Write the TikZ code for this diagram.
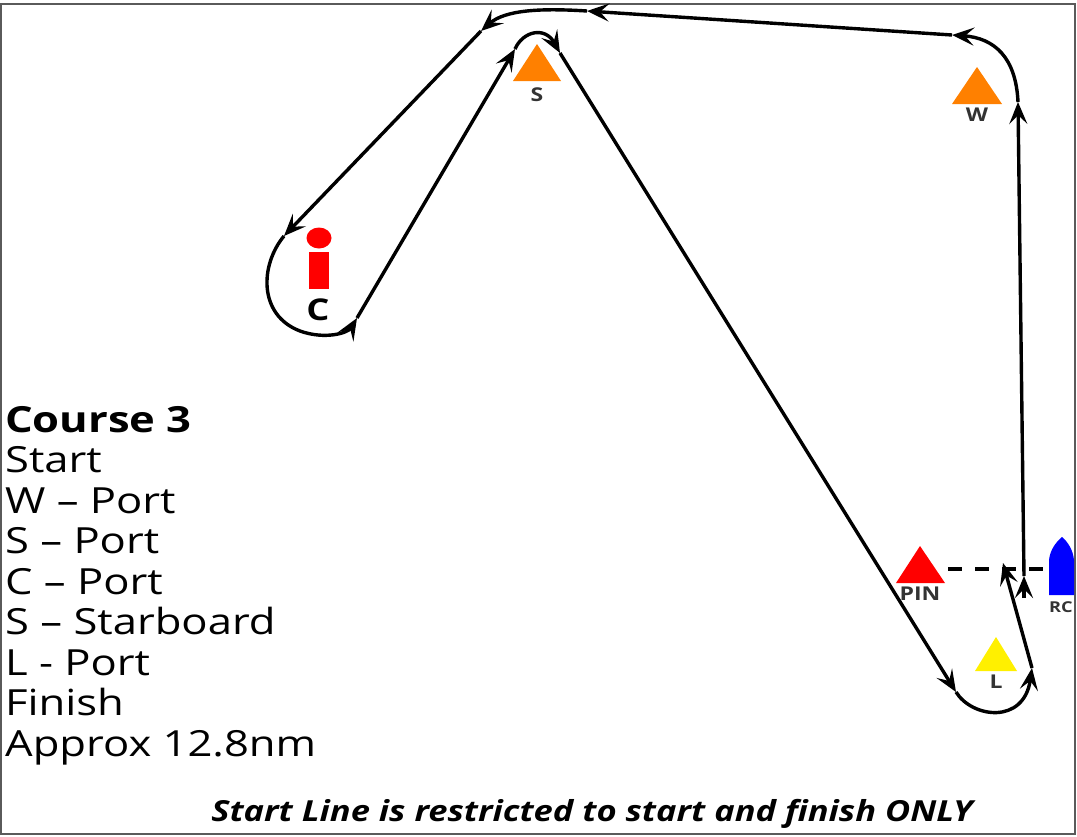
\documentclass[tikz,border=0pt]{standalone}
\usepackage{fontspec}
\setmainfont{Open Sans}[FakeStretch=1.21]
\newfontfamily\notefont{Open Sans}[FakeStretch=1.19]
\usetikzlibrary{arrows.meta}
\usetikzlibrary{positioning}
\definecolor{markorange}{RGB}{255,128,0}
\definecolor{markyellow}{RGB}{255,240,0}
\definecolor{framegray}{RGB}{90,90,90}

\begin{document}
\begin{tikzpicture}[x=1pt,y=-1pt,
		leg/.style={line width=3.4pt, -{Stealth[length=22pt,width=18pt,inset=9pt]}},
		marklabel/.style={font=\fontsize{19}{19}\selectfont\bfseries, text=black!80, inner sep=0pt},
		startline/.style={line width=3.2pt, dash pattern=on 14pt off 13pt}]
		\useasboundingbox (0,0) rectangle (1077,836);
		\draw[framegray, line width=2pt] (1,4) rectangle (1075,834);

		\fill[markorange] (513,81) -- (537,44) -- (561,81) -- cycle;
		\fill[markorange] (952,104) -- (977,67) -- (1002,104) -- cycle;
		\fill[red] (896,583) -- (920,546) -- (945,583) -- cycle;
		\fill[markyellow] (975,671) -- (996,637) -- (1017,671) -- cycle;
		\fill[blue] (1049,595) -- (1049,560) .. controls (1050,550) and (1056,542) .. (1062,537) .. controls (1068,542) and (1073,550) .. (1074,560) -- (1074,595) -- cycle;
		\fill[red] (319,238) ellipse (12.5 and 10.5);
		\fill[red] (309,252) rectangle (329,289);

		\coordinate (S) at (537,81);
		\coordinate (W) at (977,104);
		\coordinate (PIN) at (920,583);
		\coordinate (L) at (996,671);
		\coordinate (RC) at (1061,595);
		\node[marklabel, below=7pt of S] (Slabel) {S};
		\node[marklabel, below=4pt of W] (Wlabel) {W};
		\node[marklabel, below=4pt of PIN] (PINlabel) {PIN};
		\node[marklabel, below=4pt of L] (Llabel) {L};
		\node[marklabel, font=\fontsize{15}{15}\selectfont\bfseries, below=6pt of RC] (RClabel) {RC};
		\node[font=\fontsize{30}{30}\selectfont\bfseries, inner sep=0pt] (Clabel) at (318,310) {C};

		\coordinate (pin) at (948,569);
		\coordinate (rc) at (1048,569);
		\draw[startline] (pin) -- (rc);

		\coordinate (st) at (1024,598);
		\coordinate (a1) at (1024,576);
		\coordinate (a2) at (1018,102);
		\coordinate (a3) at (952,35);
		\coordinate (a4) at (587,11);
		\coordinate (a5) at (481,31);
		\coordinate (a6) at (284,236);
		\coordinate (a7) at (357,318);
		\coordinate (a8) at (515,49);
		\coordinate (a9) at (560,53);
		\coordinate (a10) at (956,692);
		\coordinate (a11) at (1032,668);
		\coordinate (fin) at (1003,563);
		\draw[leg] (st) -- (a1);
		\draw[leg] (a1) -- (a2);
		\draw[leg] (a2) .. controls (1016,58) and (995,38) .. (a3);
		\draw[leg] (a3) -- (a4);
		\draw[leg] (a4) .. controls (540,8) and (505,10) .. (a5);
		\draw[leg] (a5) -- (a6);
		\draw[leg] (a6) .. controls (260,265) and (258,315) .. (300,331) .. controls (325,340) and (348,333) .. (a7);
		\draw[leg] (a7) -- (a8);
		\draw[leg] (a8) .. controls (523,31) and (545,26) .. (a9);
		\draw[leg] (a9) -- (a10);
		\draw[leg] (a10) .. controls (972,718) and (1024,725) .. (a11);
		\draw[leg] (a11) -- (fin);

		\node[anchor=north west, align=left, inner sep=0pt, font=\fontsize{36}{40.5}\selectfont] (legend) at (5,406) {\textbf{Course 3}\\Start\\W – Port\\S – Port\\C – Port\\S – Starboard\\L - Port\\Finish\\Approx 12.8nm};
		\node[font=\notefont\fontsize{29}{29}\selectfont\bfseries\itshape, inner sep=0pt] (note) at (592,814) {Start Line is restricted to start and finish ONLY};
	\end{tikzpicture}
\end{document}
